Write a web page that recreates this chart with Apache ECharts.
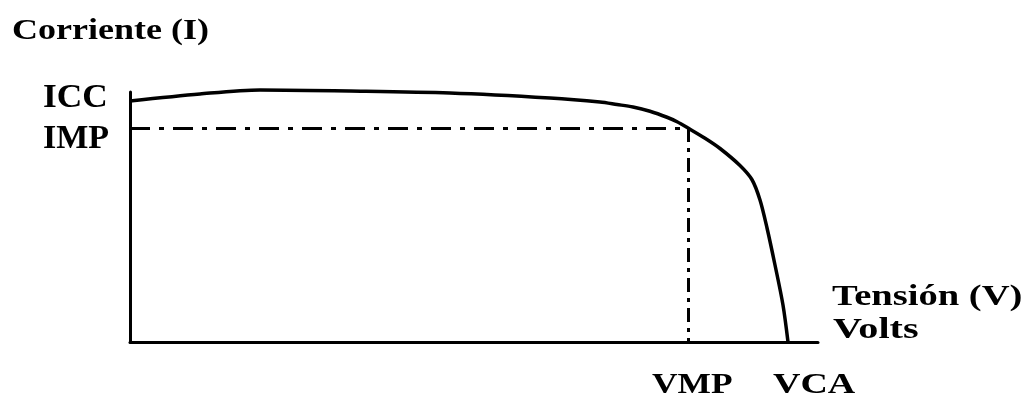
<!DOCTYPE html>
<html>
<head>
<meta charset="utf-8">
<script src="https://cdn.jsdelivr.net/npm/echarts@6/dist/echarts.min.js"></script>
<style>
  html, body { margin: 0; padding: 0; background: #fff; }
  #chart { width: 1026px; height: 399px; }
</style>
</head>
<body>
<div id="chart"></div>
<script>
// curva I-V (unidades relativas, 0-100)
var voltage = [0, 10.17, 18.9, 31.98, 46.51, 61.05, 68.31, 70.78, 73.11, 75.58, 78.05, 79.51, 81.1, 83.58, 85.76, 88.66, 90.41, 91.57, 92.59, 93.75, 94.91, 95.64]
var current = [96.4, 99.2, 100.8, 100.4, 99.6, 97.6, 96.0, 95.0, 94.0, 92.3, 89.9, 88.1, 85.6, 81.5, 77.4, 70.6, 64.9, 56.8, 45.6, 30.8, 14.8, 0]

var ICC = 96.4
var IMP = 85.6
var VMP = 81.1

var labelFont = '"Liberation Serif", "DejaVu Serif", serif'

var points = voltage.map(function (v, i) { return [v, current[i]] })

var chart = echarts.init(document.getElementById('chart'))

function label(text, x, y, size, sx) {
    return {
        type: 'text', x: x, y: y, scaleX: sx,
        style: { text: text, font: 'bold ' + size + 'px ' + labelFont, fill: '#000', verticalAlign: 'middle' }
    }
}

chart.setOption({
    animation: false,
    grid: { left: 130, right: 208, top: 92, bottom: 57 },
    xAxis: {
        type: 'value',
        min: 0,
        max: 100,
        axisLine: { show: true, lineStyle: { color: '#000', width: 3 } },
        axisTick: { show: false },
        axisLabel: { show: false },
        splitLine: { show: false }
    },
    yAxis: {
        type: 'value',
        min: 0,
        max: 100,
        axisLine: { show: true, lineStyle: { color: '#000', width: 3 } },
        axisTick: { show: false },
        axisLabel: { show: false },
        splitLine: { show: false }
    },
    series: [
        {
            type: 'line',
            data: points,
            smooth: 0.3,
            symbol: 'none',
            clip: false,
            lineStyle: { color: '#000', width: 3.5 },
            markLine: {
                silent: true,
                symbol: 'none',
                label: { show: false },
                data: [
                    [{ coord: [0, IMP], lineStyle: { color: '#000', width: 3, type: [20, 9, 5, 9] } }, { coord: [VMP, IMP] }],
                    [{ coord: [VMP, IMP], lineStyle: { color: '#000', width: 3, type: [14, 6, 4, 6] } }, { coord: [VMP, 0] }],
                    [{ coord: [-0.9, ICC], lineStyle: { color: '#000', width: 2.5, type: 'solid' } }, { coord: [0, ICC] }]
                ]
            }
        }
    ],
    graphic: [
        label('Corriente (I)', 12, 31.5, 30, 1.2),
        label('ICC', 43, 98.5, 34, 1.04),
        label('IMP', 43, 139, 34, 1.0),
        label('VMP', 652, 386, 29, 1.22),
        label('VCA', 773, 386, 29, 1.31),
        label('Tensión (V)', 832, 297.5, 29, 1.33),
        label('Volts', 833, 330, 30, 1.34)
    ]
})
</script>
</body>
</html>
